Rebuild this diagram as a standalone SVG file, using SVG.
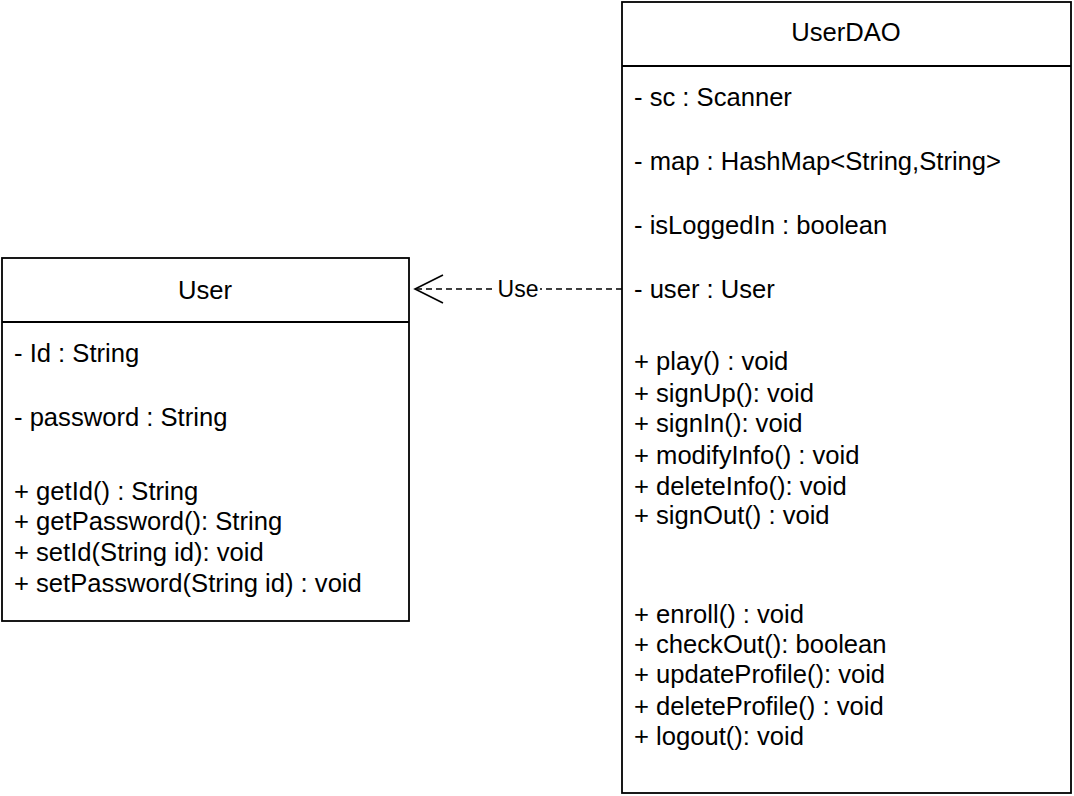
<svg xmlns="http://www.w3.org/2000/svg" width="1074" height="796" viewBox="0 0 1074 796">
<style>
.box{fill:#fff;stroke:#000;stroke-width:1.8}
.t{font-family:"Liberation Sans",Arial,sans-serif;font-size:25.6px;fill:#000}
.c{text-anchor:middle}
.edge{fill:none;stroke:#000;stroke-width:1.6;stroke-dasharray:6,4}
.head{fill:none;stroke:#000;stroke-width:1.6}
.lbl{font-family:"Liberation Sans",Arial,sans-serif;font-size:23px;fill:#000;text-anchor:middle}
</style>
<rect width="1074" height="796" fill="#fff"/>
<g id="User">
<rect class="box" x="2" y="258" width="407" height="363"/>
<line class="box" x1="2" y1="322" x2="409" y2="322"/>
<text class="t c" x="205" y="299">User</text>
<text class="t" x="14" y="362">- Id : String</text>
<text class="t" x="14" y="426">- password : String</text>
<text class="t" x="14" y="500">+ getId() : String</text>
<text class="t" x="14" y="530">+ getPassword(): String</text>
<text class="t" x="14" y="561">+ setId(String id): void</text>
<text class="t" x="14" y="592">+ setPassword(String id) : void</text>
</g>
<g id="UserDAO">
<rect class="box" x="622" y="2" width="449" height="791"/>
<line class="box" x1="622" y1="66" x2="1071" y2="66"/>
<text class="t c" x="846" y="41">UserDAO</text>
<text class="t" x="634" y="106">- sc : Scanner</text>
<text class="t" x="634" y="170">- map : HashMap&lt;String,String&gt;</text>
<text class="t" x="634" y="234">- isLoggedIn : boolean</text>
<text class="t" x="634" y="298">- user : User</text>
<text class="t" x="634" y="370">+ play() : void</text>
<text class="t" x="634" y="402">+ signUp(): void</text>
<text class="t" x="634" y="432">+ signIn(): void</text>
<text class="t" x="634" y="464">+ modifyInfo() : void</text>
<text class="t" x="634" y="495">+ deleteInfo(): void</text>
<text class="t" x="634" y="524">+ signOut() : void</text>
<text class="t" x="634" y="623">+ enroll() : void</text>
<text class="t" x="634" y="653">+ checkOut(): boolean</text>
<text class="t" x="634" y="683">+ updateProfile(): void</text>
<text class="t" x="634" y="715">+ deleteProfile() : void</text>
<text class="t" x="634" y="745">+ logout(): void</text>
</g>
<g id="connectors">
<line class="edge" x1="622" y1="289" x2="416" y2="289"/>
<polyline class="head" points="443,275 415,289 443,303"/>
<rect x="496" y="277" width="44" height="24" fill="#fff"/>
<text class="lbl" x="518" y="297">Use</text>
</g>
</svg>
